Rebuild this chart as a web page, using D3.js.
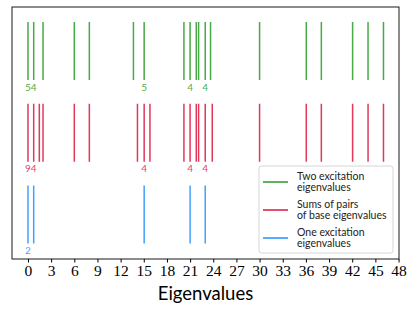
<!DOCTYPE html>
<html>
<head>
<meta charset="utf-8">
<script src="https://cdn.jsdelivr.net/npm/d3@7.9.0/dist/d3.min.js"></script>
<style>
  body { margin: 0; background: #fff; }
  svg { display: block; }
</style>
</head>
<body>
<svg width="415" height="313"></svg>
<script>
// eigenvalues
const twoExc = [0, 0.74, 1.95, 6, 7.95, 13.66, 15.05, 20.2, 21, 21.8, 22.1, 22.96, 23.65, 30, 36.05, 38, 42.05, 44.05, 46.05];
const sumPairs = [0, 0.74, 1.47, 1.95, 6, 7.95, 14.18, 15.05, 15.8, 20.2, 21, 21.8, 22.1, 22.96, 23.87, 30, 36.05, 38, 42.05, 44.05, 46.05];
const oneExc = [0, 0.74, 15.05, 21, 22.96];

// degeneracy labels [value, count]
const twoLabels = [[0, "5"], [0.74, "4"], [15.05, "5"], [21, "4"], [22.96, "4"]];
const sumLabels = [[0, "9"], [0.74, "4"], [15.05, "4"], [21, "4"], [22.96, "4"]];
const oneLabels = [[0, "2"]];

const rows = ["two", "sums", "one"];
const colors = { two: "#279a27", sums: "#dc143c", one: "#1e90ff" };
const legendText = {
  two: ["Two excitation", "eigenvalues"],
  sums: ["Sums of pairs", "of base eigenvalues"],
  one: ["One excitation", "eigenvalues"]
};
const xTicks = d3.range(0, 49, 3);

const svg = d3.select("svg");
const mLeft = 12, mRight = 399, mTop = 7, mBottom = 259;

const x = d3.scaleLinear().domain([-2.07, 48.06]).range([mLeft, mRight]);
const y = d3.scalePoint().domain(rows).range([51, 214.5]);
const half = 29;

const series = [
  { key: "two", vals: twoExc, labels: twoLabels },
  { key: "sums", vals: sumPairs, labels: sumLabels },
  { key: "one", vals: oneExc, labels: oneLabels }
];

series.forEach(s => {
  svg.append("g").selectAll("line")
    .data(s.vals).join("line")
    .attr("x1", d => x(d)).attr("x2", d => x(d))
    .attr("y1", y(s.key) - half).attr("y2", y(s.key) + half)
    .attr("stroke", colors[s.key])
    .attr("stroke-width", 1.5)
    .attr("stroke-opacity", 0.85);

  svg.append("g").selectAll("text")
    .data(s.labels).join("text")
    .attr("x", d => x(d[0]))
    .attr("y", y(s.key) + half + 10.5)
    .attr("text-anchor", "middle")
    .attr("font-family", "Lato, sans-serif")
    .attr("font-size", 10)
    .attr("fill", colors[s.key])
    .attr("fill-opacity", 0.85)
    .text(d => d[1]);
});

// frame
svg.append("rect")
  .attr("x", mLeft).attr("y", mTop)
  .attr("width", mRight - mLeft).attr("height", mBottom - mTop)
  .attr("fill", "none").attr("stroke", "#000").attr("stroke-width", 0.9);

// x axis
const ax = svg.append("g")
  .attr("transform", `translate(0,${mBottom})`)
  .call(d3.axisBottom(x).tickValues(xTicks).tickSize(3.5).tickPadding(2));
ax.select(".domain").remove();
ax.selectAll("text")
  .attr("font-family", "'Liberation Serif', serif")
  .attr("font-size", 15.5)
  .attr("fill", "#000");

svg.append("text")
  .attr("x", (mLeft + mRight) / 2)
  .attr("y", 300)
  .attr("text-anchor", "middle")
  .attr("font-family", "Lato, sans-serif")
  .attr("font-size", 18.5)
  .text("Eigenvalues");

// legend
const lg = svg.append("g").attr("transform", "translate(259,166)");
lg.append("rect")
  .attr("width", 134).attr("height", 87).attr("rx", 2.5)
  .attr("fill", "#fff").attr("fill-opacity", 0.8)
  .attr("stroke", "#ccc").attr("stroke-width", 0.8);

rows.forEach((k, i) => {
  const cy = 16 + i * 28;
  lg.append("line")
    .attr("x1", 4).attr("x2", 29)
    .attr("y1", cy).attr("y2", cy)
    .attr("stroke", colors[k]).attr("stroke-width", 1.5);
  legendText[k].forEach((t, j) => {
    lg.append("text")
      .attr("x", 38)
      .attr("y", cy - 2 + j * 11)
      .attr("font-family", "Lato, sans-serif")
      .attr("font-size", 10.5)
      .attr("fill", "#222")
      .text(t);
  });
});
</script>
</body>
</html>
